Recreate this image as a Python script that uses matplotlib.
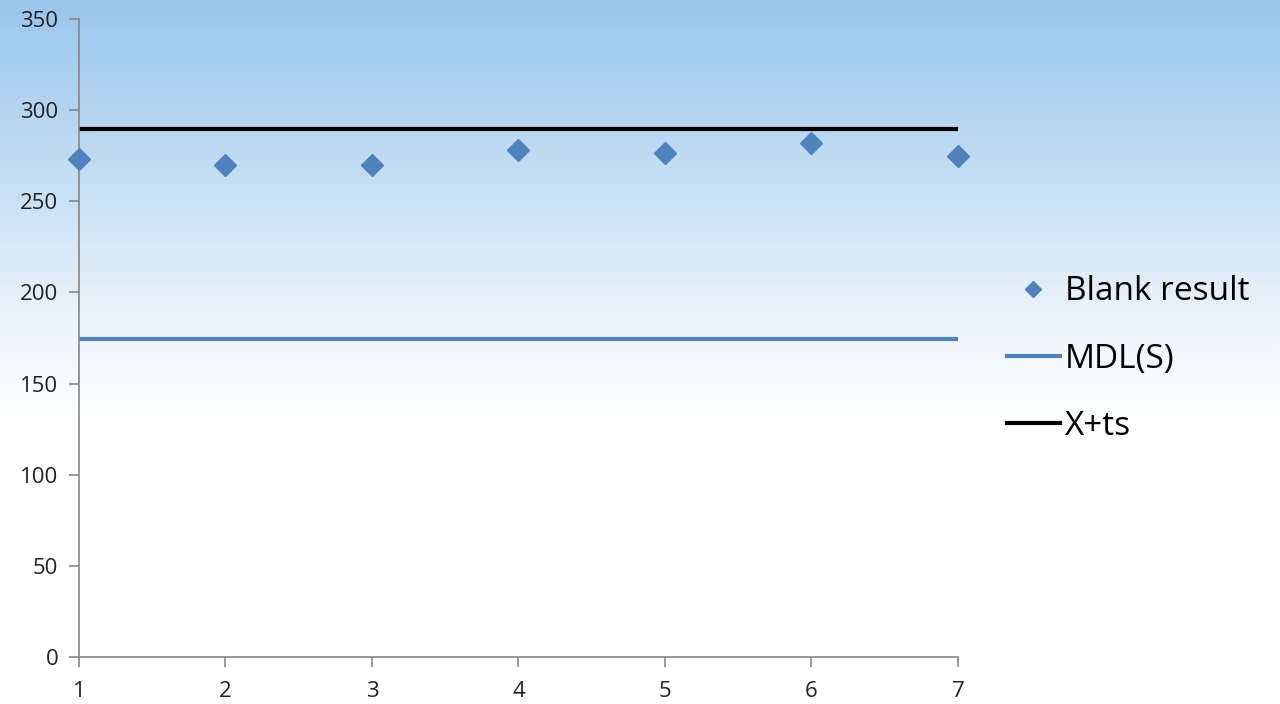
import matplotlib.pyplot as plt
import numpy as np
from matplotlib.colors import LinearSegmentedColormap
from matplotlib.lines import Line2D

plt.rcParams['font.family'] = ['Open Sans', 'DejaVu Sans']

# blank measurements and limits
runs = [1, 2, 3, 4, 5, 6, 7]
blank_result = [273, 270, 270, 278, 276.5, 282, 275]
mdl_s = [174.5] * 7
x_ts = [289.5] * 7

fig = plt.figure(figsize=(12.8, 7.04), dpi=100)

# sky-blue backdrop fading to white
bg = fig.add_axes([0, 0, 1, 1], zorder=-1)
grad = np.linspace(0, 1, 256).reshape(-1, 1)
cmap = LinearSegmentedColormap.from_list(
    "sky", [(0.0, "#9ac6ec"), (0.25, "#c4def3"), (0.5, "#f4f8fc"), (0.6, "#ffffff"), (1.0, "#ffffff")])
bg.imshow(grad, aspect="auto", cmap=cmap, extent=[0, 1, 0, 1], origin="upper")
bg.axis("off")

ax = fig.add_axes([0.0617, 0.0668, 0.6867, 0.9062])
ax.patch.set_alpha(0)

blue = "#4f81bd"
ax.plot(runs, blank_result, linestyle="none", marker="D", markersize=11,
        color=blue, label="Blank result", zorder=3, clip_on=False)
ax.plot(runs, mdl_s, color=blue, linewidth=3, label="MDL(S)", solid_capstyle="round")
ax.plot(runs, x_ts, color="black", linewidth=3, label="X+ts", solid_capstyle="round")

ax.set_xlim(1, 7)
ax.set_ylim(0, 350)
ax.set_yticks(range(0, 351, 50))
ax.set_xticks(runs)

for side in ["top", "right"]:
    ax.spines[side].set_visible(False)
for side in ["left", "bottom"]:
    ax.spines[side].set_color("#868686")
    ax.spines[side].set_linewidth(1.2)
ax.tick_params(axis="both", colors="#868686", length=7, width=1.2, labelsize=16,
               labelcolor="#222222")
ax.tick_params(axis="y", pad=8)
ax.tick_params(axis="x", pad=10)

handles = [
    Line2D([], [], linestyle="none", marker="D", markersize=8, color=blue),
    Line2D([], [], color=blue, linewidth=3),
    Line2D([], [], color="black", linewidth=3),
]
fig.legend(handles, ["Blank result", "MDL(S)", "X+ts"], loc="center left",
           bbox_to_anchor=(0.763, 0.49), frameon=False, fontsize=24,
           handlelength=1.6, handletextpad=0.15, labelspacing=1.03)

fig.savefig("out.png", dpi=100)
